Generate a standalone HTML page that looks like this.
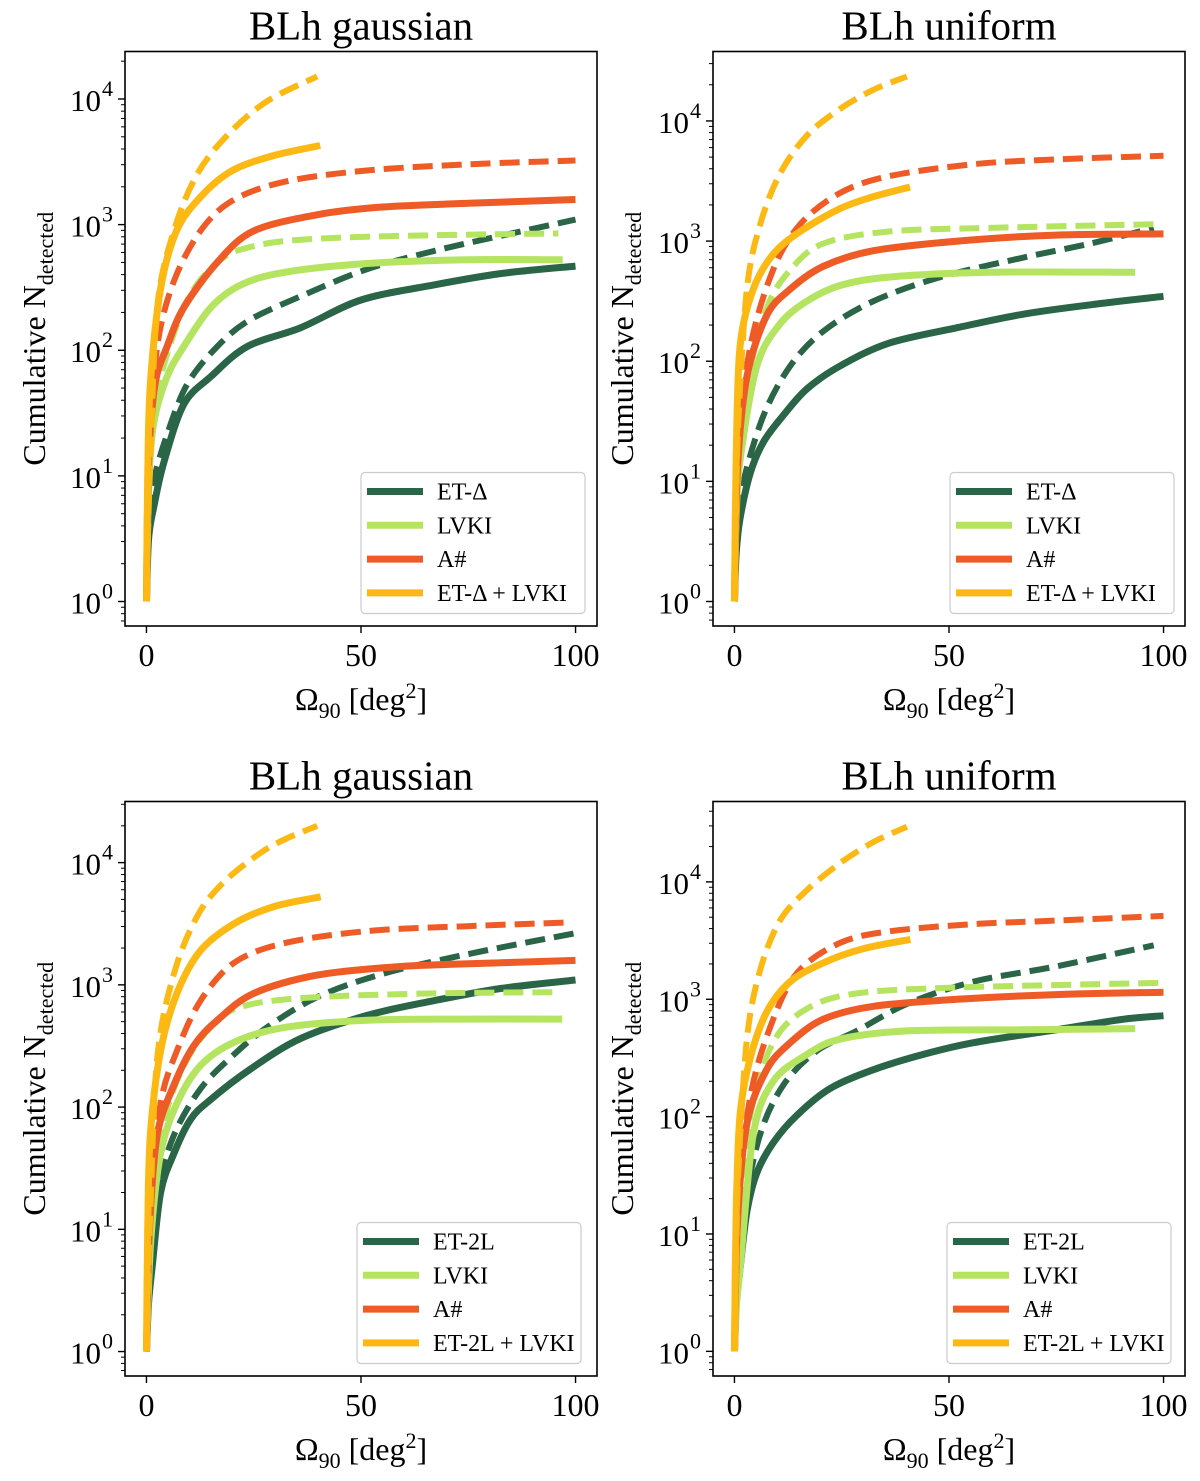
<!DOCTYPE html>
<html><head><meta charset="utf-8">
<style>
html,body{margin:0;padding:0;background:#fff;}
svg{display:block;font-family:"Liberation Serif",serif;}
</style></head>
<body>
<svg id="fig" width="1200" height="1481" viewBox="0 0 1200 1481" xmlns="http://www.w3.org/2000/svg"></svg>
<script>
// ---- data (x in deg^2, y in log10 N) ----
const panelTitles = ["BLh gaussian","BLh uniform","BLh gaussian","BLh uniform"];
const seriesLabels1 = ["ET-Δ","LVKI","A#","ET-Δ + LVKI"];
const seriesLabels2 = ["ET-2L","LVKI","A#","ET-2L + LVKI"];
const xTicks = [0,50,100];
const yTicks = [0,1,2,3,4];

// Panel 1
const p1_etSolidX=[0,0.5,1.7,4,8.7,15,23.5,36,50,67,82.5,100];
const p1_etSolidY=[0,0.5,0.75,1.1,1.57,1.79,2.03,2.18,2.4,2.52,2.61,2.67];
const p1_etDashX=[0,0.5,1.7,4.8,9.5,16.5,24,36,51,67,82.5,100];
const p1_etDashY=[0,0.6,0.96,1.33,1.73,2.03,2.24,2.43,2.64,2.79,2.91,3.04];
const p1_lvSolidX=[0,0.5,1.7,4.8,8.7,15,22,32,51,75,97];
const p1_lvSolidY=[0,0.9,1.42,1.79,2.03,2.34,2.52,2.62,2.69,2.72,2.72];
const p1_lvDashX=[0,0.5,1.7,8.7,16.5,24,36,59,96];
const p1_lvDashY=[0,1.0,1.57,2.34,2.7,2.82,2.88,2.91,2.93];
const p1_aSolidX=[0,0.5,2,4.8,8.7,16.5,25,40,55,75,100];
const p1_aSolidY=[0,1.1,1.73,2.03,2.34,2.7,2.95,3.08,3.14,3.17,3.2];
const p1_aDashX=[0,0.7,2.5,6.4,12.6,20,32,51,75,100];
const p1_aDashY=[0,1.2,2.03,2.55,2.95,3.19,3.34,3.43,3.48,3.51];
const p1_cSolidX=[0,0.3,0.9,3.3,7,12.6,20,29.7,40.5];
const p1_cSolidY=[0,1.0,1.73,2.49,2.95,3.22,3.43,3.55,3.63];
const p1_cDashX=[0,0.4,0.9,2.5,6.4,11.8,18.8,28,39.8];
const p1_cDashY=[0,0.6,1.12,2.34,2.95,3.4,3.71,3.98,4.18];

// Panel 2
const p2_etSolidX=[0,0.4,1.3,3.7,6.8,11.4,16.9,24.6,36,52,67,83,100];
const p2_etSolidY=[0,0.4,0.69,1.07,1.33,1.55,1.77,1.96,2.15,2.28,2.39,2.47,2.54];
const p2_etDashX=[0,0.6,2.1,6.8,13,20.7,32.4,48,67,83,97.7];
const p2_etDashY=[0,0.6,1.0,1.55,1.96,2.25,2.5,2.7,2.86,2.98,3.11];
const p2_lvSolidX=[0,0.4,1.3,5.2,10.6,16.9,24.6,36,59.6,93.4];
const p2_lvSolidY=[0,0.7,1.17,1.96,2.31,2.5,2.63,2.7,2.74,2.74];
const p2_lvDashX=[0,0.8,2.9,7.5,13,20.7,36,59.6,97.7];
const p2_lvDashY=[0,1.0,1.8,2.44,2.76,2.98,3.08,3.11,3.14];
const p2_aSolidX=[0,0.7,2.9,7.5,13,20.7,32.4,52,75,100];
const p2_aSolidY=[0,1.1,1.87,2.38,2.6,2.79,2.92,3.0,3.05,3.06];
const p2_aDashX=[0,1,3.7,9,15.3,24.6,36,55.7,75,100];
const p2_aDashY=[0,1.3,2.12,2.76,3.14,3.4,3.54,3.64,3.68,3.71];
const p2_cSolidX=[0,0.4,1.3,4.4,9,15.3,24.6,32.4,40.9];
const p2_cSolidY=[0,1.2,2.12,2.6,2.89,3.08,3.27,3.37,3.45];
const p2_cDashX=[0,0.4,0.9,2.9,6,10.6,16.9,24.6,32.4,40.2];
const p2_cDashY=[0,0.8,1.49,2.6,3.14,3.56,3.88,4.1,4.26,4.37];

// Panel 3
const p3_etSolidX=[0,0.5,1.3,3.3,6.4,10.3,14.9,24.2,35.9,51.4,67,82.5,100];
const p3_etSolidY=[0,0.4,0.68,1.3,1.62,1.9,2.06,2.31,2.56,2.75,2.87,2.97,3.04];
const p3_etDashX=[0,0.8,2.5,6.4,12.6,20.4,28,39.8,55,74.7,99.6];
const p3_etDashY=[0,0.7,1.3,1.77,2.15,2.43,2.65,2.9,3.09,3.25,3.42];
const p3_lvSolidX=[0,1,3.3,7.1,12.6,20.4,32,51.4,74.7,96.9];
const p3_lvSolidY=[0,0.9,1.62,2.03,2.34,2.53,2.65,2.71,2.72,2.72];
const p3_lvDashX=[0,1,3.3,8.7,16.5,24.2,39.8,67,94.6];
const p3_lvDashY=[0,1.0,1.77,2.34,2.71,2.84,2.9,2.93,2.94];
const p3_aSolidX=[0,0.7,2.5,6.4,11,16.5,25,39.8,59.2,82.5,100];
const p3_aSolidY=[0,1.0,1.77,2.18,2.5,2.71,2.93,3.08,3.15,3.18,3.2];
const p3_aDashX=[0,1,3.3,7.1,12.6,20.4,32,51.4,74.7,98];
const p3_aDashY=[0,1.2,2.03,2.46,2.87,3.18,3.34,3.44,3.48,3.51];
const p3_cSolidX=[0,0.3,0.9,3.3,7.1,12.6,20.4,29.7,40.6];
const p3_cSolidY=[0,1.0,1.77,2.46,2.93,3.28,3.5,3.64,3.72];
const p3_cDashX=[0,0.4,0.9,2.5,6.4,11.8,18,26.6,32.8,39.8];
const p3_cDashY=[0,0.6,1.15,2.4,3.09,3.56,3.84,4.08,4.2,4.3];

// Panel 4
const p4_etSolidX=[0,0.4,1.3,2.9,5.2,9.1,14.5,22.3,32.4,44,55.7,75,90.7,100];
const p4_etSolidY=[0,0.4,0.7,1.19,1.52,1.78,2.01,2.24,2.4,2.53,2.63,2.74,2.83,2.86];
const p4_etDashX=[0,0.7,2.1,6,11.4,19.2,28.5,40.2,55.7,75,97.7];
const p4_etDashY=[0,0.6,1.19,1.85,2.27,2.56,2.73,2.96,3.15,3.28,3.46];
const p4_lvSolidX=[0,0.5,1.3,4.4,9,16.9,24.6,40.2,67.4,93.4];
const p4_lvSolidY=[0,0.4,0.7,1.85,2.3,2.53,2.66,2.73,2.74,2.75];
const p4_lvDashX=[0,1,3.7,9,16.9,28.5,51.8,100];
const p4_lvDashY=[0,1.0,2.01,2.63,2.92,3.05,3.1,3.14];
const p4_aSolidX=[0,0.7,2.9,7.5,13,20.7,32.4,51.8,75,100];
const p4_aSolidY=[0,1.1,1.94,2.4,2.63,2.83,2.94,3.0,3.04,3.06];
const p4_aDashX=[0,1,3.7,8.3,14.5,24.6,36.3,55.7,75,100];
const p4_aDashY=[0,1.3,2.17,2.76,3.22,3.48,3.58,3.64,3.67,3.71];
const p4_cSolidX=[0,0.4,1.3,3.7,7.5,13,20.7,30,41];
const p4_cSolidY=[0,1.2,2.01,2.5,2.89,3.15,3.31,3.43,3.51];
const p4_cDashX=[0,0.4,0.9,2.9,6,10.6,16.9,24.6,32.4,40.2];
const p4_cDashY=[0,0.8,1.52,2.66,3.25,3.67,3.93,4.16,4.34,4.47];

const colors=["#2a6548","#b5e461","#ef5b26","#fdb913"];
const NS="http://www.w3.org/2000/svg";
const svg=document.getElementById("fig");
function mk(tag,attrs,parent){const e=document.createElementNS(NS,tag);for(const k in attrs)e.setAttribute(k,attrs[k]);(parent||svg).appendChild(e);return e;}

function smoothPath(P){
  let d="M"+P[0][0].toFixed(1)+","+P[0][1].toFixed(1);
  for(let i=0;i<P.length-1;i++){
    const p0=P[Math.max(i-1,0)],p1=P[i],p2=P[i+1],p3=P[Math.min(i+2,P.length-1)];
    const t=0.16;
    const c1=[p1[0]+(p2[0]-p0[0])*t,p1[1]+(p2[1]-p0[1])*t];
    const c2=[p2[0]-(p3[0]-p1[0])*t,p2[1]-(p3[1]-p1[1])*t];
    d+="C"+c1[0].toFixed(1)+","+c1[1].toFixed(1)+" "+c2[0].toFixed(1)+","+c2[1].toFixed(1)+" "+p2[0].toFixed(1)+","+p2[1].toFixed(1);
  }
  return d;
}

const panels=[
 {L:125,R:597,T:51.5,B:626,ymin:-0.195,ymax:4.378,labels:seriesLabels1,
  s:[[p1_etSolidX,p1_etSolidY,p1_etDashX,p1_etDashY],[p1_lvSolidX,p1_lvSolidY,p1_lvDashX,p1_lvDashY],[p1_aSolidX,p1_aSolidY,p1_aDashX,p1_aDashY],[p1_cSolidX,p1_cSolidY,p1_cDashX,p1_cDashY]],leg:361},
 {L:713,R:1185,T:51.5,B:626,ymin:-0.204,ymax:4.578,labels:seriesLabels1,
  s:[[p2_etSolidX,p2_etSolidY,p2_etDashX,p2_etDashY],[p2_lvSolidX,p2_lvSolidY,p2_lvDashX,p2_lvDashY],[p2_aSolidX,p2_aSolidY,p2_aDashX,p2_aDashY],[p2_cSolidX,p2_cSolidY,p2_cDashX,p2_cDashY]],leg:950},
 {L:125,R:597,T:801.5,B:1376,ymin:-0.2,ymax:4.5,labels:seriesLabels2,
  s:[[p3_etSolidX,p3_etSolidY,p3_etDashX,p3_etDashY],[p3_lvSolidX,p3_lvSolidY,p3_lvDashX,p3_lvDashY],[p3_aSolidX,p3_aSolidY,p3_aDashX,p3_aDashY],[p3_cSolidX,p3_cSolidY,p3_cDashX,p3_cDashY]],leg:357},
 {L:713,R:1185,T:801.5,B:1376,ymin:-0.21,ymax:4.685,labels:seriesLabels2,
  s:[[p4_etSolidX,p4_etSolidY,p4_etDashX,p4_etDashY],[p4_lvSolidX,p4_lvSolidY,p4_lvDashX,p4_lvDashY],[p4_aSolidX,p4_aSolidY,p4_aDashX,p4_aDashY],[p4_cSolidX,p4_cSolidY,p4_cDashX,p4_cDashY]],leg:947}
];

panels.forEach((p,pi)=>{
  const g=mk("g",{});
  
  
  const xs=v=>p.L+(v+5)/110*(p.R-p.L);
  const ys=v=>p.B-(v-p.ymin)/(p.ymax-p.ymin)*(p.B-p.T);
  const cx=(p.L+p.R)/2, cy=(p.T+p.B)/2;
  const t=mk("text",{x:cx,y:p.T-12,"text-anchor":"middle","font-size":41,fill:"#000"},g);
  t.textContent=panelTitles[pi];
  
  
  const cid="clip"+pi;
  const cp=mk("clipPath",{id:cid},g);
  mk("rect",{x:p.L,y:p.T,width:p.R-p.L,height:p.B-p.T},cp);
  const lines=mk("g",{"clip-path":"url(#"+cid+")"},g);
  p.s.forEach((s,si)=>{
    const dp=s[2].map((x,i)=>[xs(x),ys(s[3][i])]);
    const d=mk("path",{d:smoothPath(dp),fill:"none",stroke:colors[si],"stroke-width":6,"stroke-dasharray":"20,9","stroke-linejoin":"round"},lines);
    
    
    const sp=s[0].map((x,i)=>[xs(x),ys(s[1][i])]);
    const l=mk("path",{d:smoothPath(sp),fill:"none",stroke:colors[si],"stroke-width":7,"stroke-linejoin":"round"},lines);
    
    
  });
  const fr=mk("rect",{x:p.L,y:p.T,width:p.R-p.L,height:p.B-p.T,fill:"none",stroke:"#000","stroke-width":1.6},g);
  
  
  xTicks.forEach(v=>{
    mk("line",{x1:xs(v),x2:xs(v),y1:p.B,y2:p.B+7,stroke:"#000","stroke-width":1.4},g);
    const tl=mk("text",{x:xs(v),y:p.B+40,"text-anchor":"middle","font-size":32,fill:"#000"},g);
    tl.textContent=v;
    
    
  });
  yTicks.forEach(v=>{
    mk("line",{x1:p.L-7,x2:p.L,y1:ys(v),y2:ys(v),stroke:"#000","stroke-width":1.4},g);
    const tl=mk("text",{x:p.L-24,y:ys(v)+12,"text-anchor":"end","font-size":31,fill:"#000"},g);
    tl.textContent="10";
    
    
    const sp=mk("text",{x:p.L-23,y:ys(v)-3,"text-anchor":"start","font-size":22,fill:"#000"},g);
    sp.textContent=v;
  });
  for(let dec=-1;dec<5;dec++){for(let m=2;m<10;m++){const v=dec+Math.log10(m);if(v>p.ymin&&v<p.ymax)mk("line",{x1:p.L-4,x2:p.L,y1:ys(v),y2:ys(v),stroke:"#000","stroke-width":1},g);}}
  const yl=mk("text",{x:0,y:0,"text-anchor":"middle","font-size":32,fill:"#000",transform:"translate("+(p.L-80)+","+cy+") rotate(-90)"},g);
  yl.innerHTML='Cumulative N<tspan font-size="22" dy="8">detected</tspan>';
  
  
  const xl=mk("text",{x:cx,y:p.B+84,"text-anchor":"middle","font-size":32,fill:"#000"},g);
  xl.innerHTML='Ω<tspan font-size="22" dy="8">90</tspan><tspan dy="-8"> [deg</tspan><tspan font-size="22" dy="-12">2</tspan><tspan dy="12">]</tspan>';
  
  
  const lg=mk("g",{},g);
  
  
  const ly=p.T+421;
  mk("rect",{x:p.leg,y:ly,width:224,height:141,rx:4,fill:"#fff","fill-opacity":0.85,stroke:"#ccc","stroke-width":1.2},lg);
  p.labels.forEach((lab,i)=>{
    const yy=ly+19+i*33.8;
    mk("line",{x1:p.leg+6,x2:p.leg+62,y1:yy,y2:yy,stroke:colors[i],"stroke-width":7},lg);
    const e=mk("text",{x:p.leg+76,y:yy+8,"font-size":24,fill:"#000"},lg);
    e.textContent=lab;
    
    
  });
});
</script>
</body></html>
